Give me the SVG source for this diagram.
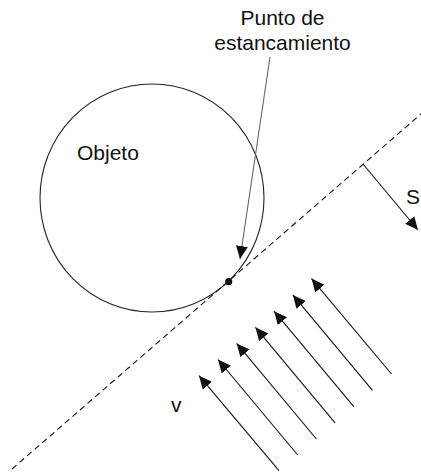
<svg xmlns="http://www.w3.org/2000/svg" width="421" height="473" viewBox="0 0 421 473">
<style>
  .lbl { font-family: "Liberation Sans", Arial, sans-serif; font-size: 21px; fill: #111; }
  .ln { stroke: #111; stroke-width: 1.1; fill: none; }
</style>
<defs>
  <marker id="ah" markerUnits="userSpaceOnUse" markerWidth="14" markerHeight="14" viewBox="0 -7 14 14" refX="13" refY="0" orient="auto">
    <path d="M0,-6 L13,0 L0,6 z" fill="#111"/>
  </marker>
</defs>
<rect width="421" height="473" fill="#fff"/>
<g id="objeto">
  <ellipse cx="152" cy="198" rx="112" ry="114" fill="none" stroke="#222" stroke-width="1.1"/>
  <text class="lbl" x="77" y="160">Objeto</text>
</g>
<g id="plano">
  <line x1="12" y1="469" x2="421" y2="114" stroke="#111" stroke-width="1.1" stroke-dasharray="6,4"/>
</g>
<g id="punto">
  <circle cx="228.7" cy="281.7" r="3.6" fill="#111"/>
  <text class="lbl" x="282.5" y="25" text-anchor="middle">Punto de</text>
  <text class="lbl" x="282.5" y="50" text-anchor="middle">estancamiento</text>
</g>
<g id="labels">
  <text class="lbl" x="406" y="204">S</text>
  <text class="lbl" x="171" y="412">v</text>
</g>
<g id="connectors">
  <line x1="270" y1="57" x2="240" y2="259" stroke="#666" stroke-width="1.1" marker-end="url(#ah)"/>
  <line class="ln" x1="363" y1="164" x2="418" y2="230" marker-end="url(#ah)"/>
  <line class="ln" x1="279" y1="470.7" x2="199" y2="375.7" marker-end="url(#ah)"/>
  <line class="ln" x1="297.7" y1="455" x2="218" y2="359.5" marker-end="url(#ah)"/>
  <line class="ln" x1="316.4" y1="439" x2="236.7" y2="343.4" marker-end="url(#ah)"/>
  <line class="ln" x1="335.1" y1="422.8" x2="255.4" y2="327.3" marker-end="url(#ah)"/>
  <line class="ln" x1="353.8" y1="406.6" x2="274.1" y2="311.2" marker-end="url(#ah)"/>
  <line class="ln" x1="372.5" y1="390.3" x2="292.8" y2="294.9" marker-end="url(#ah)"/>
  <line class="ln" x1="391.5" y1="374" x2="311.5" y2="278.6" marker-end="url(#ah)"/>
</g>
</svg>
